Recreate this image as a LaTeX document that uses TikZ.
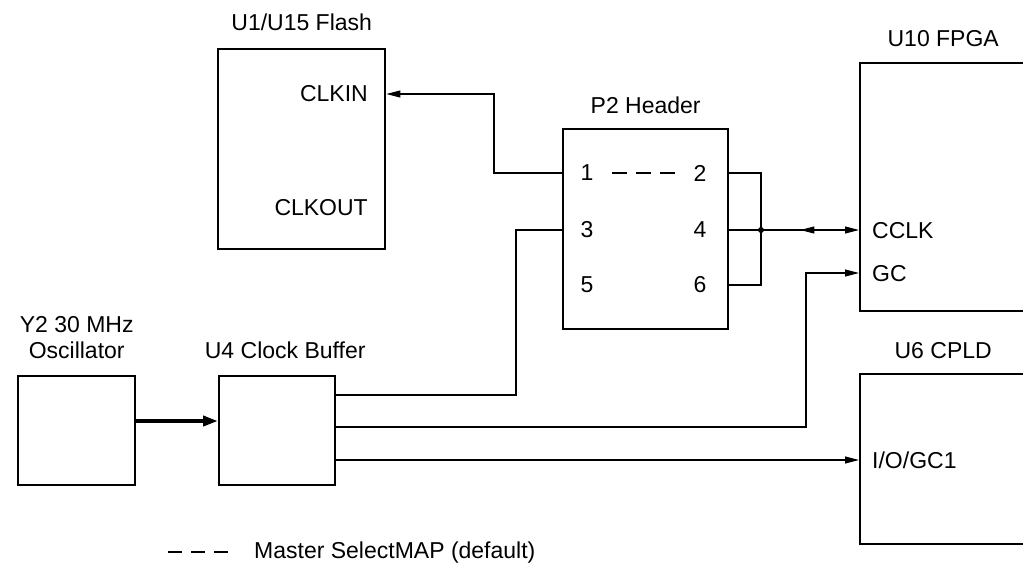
\documentclass[tikz,border=0pt]{standalone}
\usepackage{fontspec}
\setmainfont{Liberation Sans}
\usepackage{tikz}
\usetikzlibrary{arrows.meta,positioning,decorations.markings}

\begin{document}
\begin{tikzpicture}[x=1pt,y=-1pt,
        font=\fontsize{23}{26}\selectfont,
        part/.style={
            draw,
            line width=2.4pt,
            inner sep=0pt,
            anchor=north west
        },
        title/.style={inner sep=0pt,align=center},
        pin/.style={inner sep=0pt},
        wire/.style={line width=1.1pt},
        sig/.style={wire,-{Triangle[length=14pt,width=7pt]}}
    ]
        \useasboundingbox (0,0) rectangle (1023,566);
        \clip (0,0) rectangle (1023,566);

        \node[part,minimum width=167,minimum height=200] (flash) at (217,48) {};
        \node[part,minimum width=165,minimum height=200] (hdr) at (562,128) {};
        \node[part,minimum width=166,minimum height=248] (fpga) at (859,62) {};
        \node[part,minimum width=166,minimum height=170] (cpld) at (859,373) {};
        \node[part,minimum width=117,minimum height=109] (osc) at (17,375) {};
        \node[part,minimum width=116,minimum height=109] (buf) at (218,375) {};

        \node[title,above=17pt of flash] {U1/U15 Flash};
        \node[title,above=14pt of hdr] {P2 Header};
        \node[title,above=15pt of fpga] {U10 FPGA};
        \node[title,above=14pt of cpld] {U6 CPLD};
        \node[title,above=16pt of osc] {Y2 30 MHz\\Oscillator};
        \node[title,above=16pt of buf,xshift=8pt] {U4 Clock Buffer};

        \node[pin,anchor=east] (clkin) at (368,94) {CLKIN};
        \node[pin,anchor=east] (clkout) at (368,208) {CLKOUT};
        \node[pin,anchor=west] (cclk) at (872,231) {CCLK};
        \node[pin,anchor=west] (gc) at (872,274) {GC};
        \node[pin,anchor=west] (io) at (872,460) {I/O/GC1};

        \node[pin] (p1) at (587,173) {1};
        \node[pin] (p2) at (700,173) {2};
        \node[pin] (p3) at (587,230) {3};
        \node[pin] (p4) at (700,230) {4};
        \node[pin] (p5) at (587,285) {5};
        \node[pin] (p6) at (700,285) {6};
        \draw[wire,dash pattern=on 15pt off 9pt] (612,173) -- (675,173);

        \draw[sig] (hdr.west |- p1) -- (494,173) |- (flash.east |- clkin);
        \draw[wire] (hdr.east |- p2) -- (761,173) |- (hdr.east |- p6);
        \coordinate (jct) at (761,230);
        \fill (jct) circle (3pt);
        \draw[sig,postaction={decorate},
            decoration={markings,mark=at position 85pt with {\arrow{Triangle[reversed,length=14pt,width=7pt]}}}]
            (hdr.east |- p4) -- (fpga.west |- p4);

        \draw[line width=4pt,-{Triangle[length=15pt,width=10pt]}] (osc.east |- 0,421) -- (buf.west |- 0,421);
        \draw[wire] (buf.east |- 0,395) -- (516,395) |- (hdr.west |- p3);
        \draw[sig] (buf.east |- 0,427) -- (806,427) |- (fpga.west |- 0,273);
        \draw[sig] (buf.east |- 0,460) -- (cpld.west |- 0,460);

        \node[pin,anchor=base west] (legend) at (254,558) {Master SelectMAP (default)};
        \draw[wire,dash pattern=on 14pt off 9pt] (168,552) -- (228,552);
    \end{tikzpicture}
\end{document}
